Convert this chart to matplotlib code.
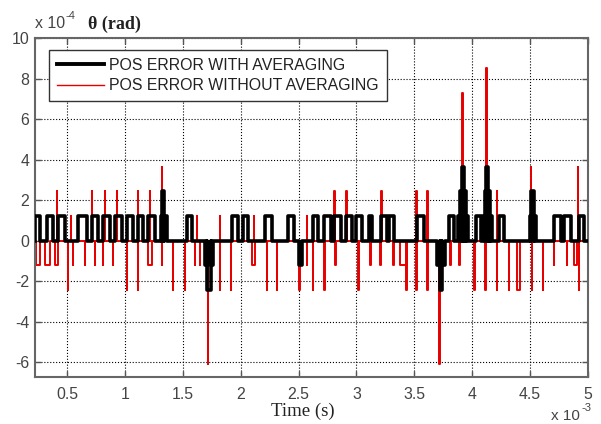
import numpy as np
from matplotlib import pyplot as plt

# time in ms (axis shows x10^-3 s), angle error in x10^-4 rad
black_start = [0.224, 0.327, 0.422, 0.595, 0.715, 0.810, 0.914, 1.017, 1.112, 1.198,
               1.310, 1.319, 1.336, 1.534, 1.690, 1.707, 1.741, 1.922, 2.017, 2.207,
               2.405, 2.500, 2.621, 2.724, 2.810, 2.914, 3.000, 3.112, 3.216, 3.284,
               3.526, 3.698, 3.724, 3.741, 3.802, 3.879, 3.896, 3.914, 3.931, 3.948,
               4.034, 4.095, 4.112, 4.121, 4.138, 4.155, 4.233, 4.500, 4.508, 4.534,
               4.707, 4.793, 4.922]
black_end = [0.267, 0.379, 0.483, 0.672, 0.767, 0.871, 0.974, 1.069, 1.155, 1.259,
             1.319, 1.336, 1.362, 1.577, 1.707, 1.741, 1.759, 1.974, 2.060, 2.267,
             2.465, 2.526, 2.664, 2.784, 2.871, 2.965, 3.052, 3.138, 3.267, 3.327,
             3.586, 3.724, 3.741, 3.767, 3.845, 3.896, 3.914, 3.931, 3.948, 3.965,
             4.077, 4.112, 4.121, 4.138, 4.155, 4.172, 4.276, 4.508, 4.534, 4.552,
             4.767, 4.853, 4.965]
black_val = [1.22, 1.22, 1.22, 1.22, 1.22, 1.22, 1.22, 1.22, 1.22, 1.22,
             1.22, 2.44, 1.22, 1.22, -1.22, -2.44, -1.22, 1.22, 1.22, 1.22,
             1.22, -1.22, 1.22, 1.22, 1.22, 1.22, 1.22, 1.22, 1.22, 1.22,
             1.22, -1.22, -2.44, -1.22, 1.22, 1.22, 2.44, 3.66, 2.44, 1.22,
             1.22, 1.22, 2.44, 3.66, 2.44, 1.22, 1.22, 1.22, 2.44, 1.22,
             1.22, 1.22, 1.22]

red_spike_t = [0.414, 0.534, 0.715, 0.827, 0.931, 1.112, 1.215, 1.319, 1.621, 1.819,
               2.112, 2.405, 2.569, 2.810, 2.914, 3.216, 3.517, 3.612, 3.914, 4.121,
               4.215, 4.508, 4.914,
               0.508, 0.552, 0.655, 0.741, 0.810, 0.896, 1.017, 1.112, 1.319, 1.414,
               1.517, 1.603, 1.646, 1.715, 1.819, 1.914, 2.224, 2.310, 2.508, 2.569,
               2.621, 2.724, 2.819, 3.017, 3.121, 3.207, 3.319, 3.431, 3.517, 3.612,
               3.715, 3.810, 3.888, 4.017, 4.112, 4.215, 4.319, 4.517, 4.612, 4.707,
               4.819, 4.922]
red_spike_val = [2.44, 1.22, 2.44, 2.44, 2.44, 2.44, 2.44, 3.66, 1.22, 1.22,
                 1.22, 1.22, 1.22, 2.44, 2.44, 2.44, 2.44, 2.44, 7.3, 8.5,
                 2.44, 3.66, 3.66,
                 -2.44, -1.22, -1.22, -1.22, -1.22, -1.22, -2.44, -2.44, -1.22, -2.44,
                 -2.44, -1.22, -1.22, -6.1, -2.44, -2.44, -2.44, -2.44, -2.44, -1.22,
                 -2.44, -2.44, -1.22, -2.44, -1.22, -1.22, -1.22, -2.44, -2.44, -2.44,
                 -6.1, -1.22, -1.22, -2.44, -2.44, -2.44, -2.44, -2.44, -2.44, -1.22,
                 -1.22, -2.44]

red_block_start = [0.233, 0.310, 0.396, 1.198, 2.095, 3.379, 4.388, 4.879]
red_block_end = [0.267, 0.353, 0.422, 1.233, 2.121, 3.440, 4.414, 4.905]
red_block_val = [-1.22, -1.22, -1.22, -1.22, -1.22, -1.22, -2.44, -1.22]

x_lo, x_hi = 0.224, 5.0


def stepTrace(starts, ends, vals):
    xs, ys = [x_lo], [0.0]
    for a, b, v in sorted(zip(starts, ends, vals)):
        xs += [a, a, b, b]
        ys += [0.0, v, v, 0.0]
    xs.append(x_hi)
    ys.append(0.0)
    return np.array(xs), np.array(ys)


spike_w = 0.003
red_s = list(red_spike_t) + list(red_block_start)
red_e = [t + spike_w for t in red_spike_t] + list(red_block_end)
red_v = list(red_spike_val) + list(red_block_val)

bx, by = stepTrace(black_start, black_end, black_val)
rx, ry = stepTrace(red_s, red_e, red_v)

plt.rcParams['axes.unicode_minus'] = False
fig = plt.figure(figsize=(6.01, 4.24), dpi=100)
ax = fig.add_axes([35 / 601, 47 / 424, 553 / 601, 339 / 424])

ax.plot(rx, ry, color='#e60000', lw=1.4, label='POS ERROR WITHOUT AVERAGING', zorder=2)
ax.plot(bx, by, color='black', lw=2.6, label='POS ERROR WITH AVERAGING', zorder=3)

ax.set_xlim(x_lo, x_hi)
ax.set_ylim(-6.72, 10)
ax.set_xticks(np.arange(0.5, 5.01, 0.5))
ax.set_xticklabels(['0.5', '1', '1.5', '2', '2.5', '3', '3.5', '4', '4.5', '5'])
ax.set_yticks(np.arange(-6, 10.1, 2))
ax.grid(True, color='black', ls=':', lw=0.8)
ax.tick_params(direction='in', top=True, right=True, length=4, width=1,
               colors='#555555', labelsize=11.4)
ax.tick_params(axis='x', pad=7)
ax.tick_params(axis='y', pad=4)
for lab in ax.get_xticklabels() + ax.get_yticklabels():
    lab.set_family('Liberation Sans')
    lab.set_color('#444444')
for s in ax.spines.values():
    s.set_color('#666666')
    s.set_linewidth(1.5)

h, l = ax.get_legend_handles_labels()
leg = ax.legend(h[::-1], l[::-1], loc='upper left', bbox_to_anchor=(14 / 553, 327 / 339),
                borderaxespad=0, fancybox=False, framealpha=1, edgecolor='#333333',
                prop={'family': 'Liberation Sans', 'size': 11.4},
                handlelength=3.0, handletextpad=0.3, labelspacing=0.35, borderpad=0.5)
leg.get_frame().set_linewidth(1.0)
leg.get_lines()[0].set_linewidth(2.8)
leg.get_lines()[1].set_linewidth(1.0)
for t in leg.get_texts():
    t.set_color('#222222')

gray = '#444444'
fig.text(35 / 601, 1 - 28 / 424, 'x 10', fontsize=11.4, family='Liberation Sans', color=gray)
fig.text(66 / 601, 1 - 19 / 424, '-4', fontsize=8, family='Liberation Sans', color=gray)
fig.text(88 / 601, 1 - 29 / 424, 'θ (rad)', fontsize=13, family='Liberation Serif',
         weight='bold', color='#222222')
fig.text(551 / 601, 1 - 420 / 424, 'x 10', fontsize=11, family='Liberation Sans', color=gray)
fig.text(581 / 601, 1 - 411 / 424, '-3', fontsize=8, family='Liberation Sans', color=gray)
fig.text(303 / 601, 1 - 411 / 424, 'Time (s)', fontsize=13.5, family='Liberation Serif',
         color='#222222', ha='center', va='center')

fig.savefig('out.png', dpi=100)
